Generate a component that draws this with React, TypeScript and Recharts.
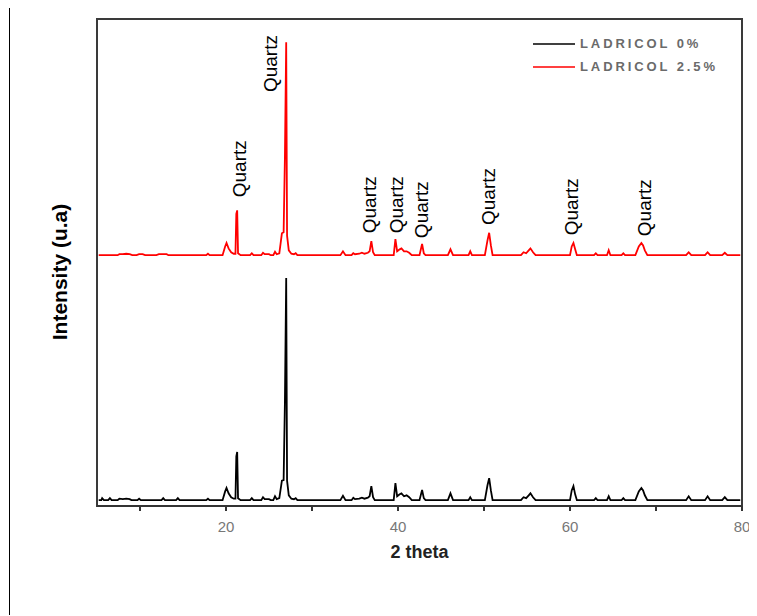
import React from 'react';
import { LineChart, Line, XAxis, YAxis, ReferenceArea, ReferenceDot, Label } from 'recharts';

// 2θ / intensity pairs (counts above each trace's own baseline)
const blackPattern: [number, number][] = [
  [5.2, 0], [5.5, 0], [5.6, 4], [5.8, 0], [6.3, 0], [6.5, 4], [6.7, 0],
  [7.4, 0], [7.6, 3], [8.0, 2], [8.4, 3], [8.8, 2], [9.0, 0], [9.7, 0], [9.9, 3], [10.1, 0],
  [12.5, 0], [12.7, 4], [12.9, 0], [14.2, 0], [14.4, 4], [14.6, 0], [17.7, 0], [17.9, 3], [18.1, 0],
  [19.6, 0], [19.9, 18], [20.06, 25], [20.3, 14], [20.6, 6], [20.9, 3], [21.1, 3], [21.2, 90], [21.3, 99], [21.4, 4], [21.7, 0],
  [22.8, 0], [23.0, 4], [23.2, 0], [24.1, 0], [24.3, 6], [24.5, 2], [25.0, 2], [25.2, 0],
  [25.5, 0], [25.7, 8], [25.9, 2], [26.2, 4], [26.5, 40], [26.7, 41], [26.85, 200], [27.0, 456], [27.1, 40], [27.3, 10], [27.6, 3], [27.9, 2], [28.1, 4], [28.3, 0],
  [33.3, 0], [33.6, 9], [33.9, 0], [34.6, 0], [34.8, 5], [35.0, 2], [35.5, 3], [35.8, 5], [36.1, 3], [36.5, 5], [36.7, 8], [36.9, 29], [37.1, 6], [37.3, 0],
  [39.5, 0], [39.7, 35], [39.9, 8], [40.2, 12], [40.4, 14], [40.7, 8], [41.0, 10], [41.3, 6], [41.6, 0],
  [42.5, 0], [42.8, 21], [43.0, 4], [43.2, 0], [45.8, 0], [46.1, 14], [46.4, 0], [48.2, 0], [48.4, 6], [48.6, 0],
  [50.1, 0], [50.4, 30], [50.6, 45], [50.8, 20], [51.0, 0],
  [54.3, 0], [54.6, 6], [54.9, 4], [55.2, 10], [55.4, 14], [55.7, 6], [56.0, 0],
  [60.0, 0], [60.2, 20], [60.4, 29], [60.6, 12], [60.8, 0],
  [62.8, 0], [63.0, 4], [63.2, 0], [64.3, 0], [64.5, 8], [64.7, 0], [66.0, 0], [66.2, 4], [66.4, 0],
  [67.6, 0], [68.0, 18], [68.3, 25], [68.5, 20], [68.7, 10], [69.0, 0],
  [73.5, 0], [73.8, 8], [74.1, 0], [75.7, 0], [76.0, 8], [76.3, 0], [77.7, 0], [78.0, 6], [78.3, 0], [79.8, 0],
];

const redPattern: [number, number][] = [
  [5.2, 0], [7.4, 0], [7.6, 2], [8.0, 2], [8.4, 3], [8.8, 2], [9.1, 0], [9.6, 0], [9.9, 2], [10.3, 2], [10.6, 0],
  [11.9, 0], [12.2, 2], [13.1, 2], [13.3, 0], [17.7, 0], [17.9, 3], [18.1, 0],
  [19.6, 0], [19.9, 18], [20.06, 25], [20.3, 14], [20.6, 6], [20.9, 3], [21.1, 3], [21.2, 85], [21.3, 92], [21.4, 4], [21.7, 0],
  [22.8, 0], [23.0, 4], [23.2, 0], [24.1, 0], [24.3, 5], [24.5, 2], [25.0, 2], [25.2, 0],
  [25.5, 0], [25.7, 7], [25.9, 2], [26.2, 4], [26.5, 45], [26.7, 47], [26.85, 200], [27.0, 437], [27.1, 40], [27.3, 10], [27.6, 3], [27.9, 2], [28.1, 4], [28.3, 0],
  [33.3, 0], [33.6, 8], [33.9, 0], [34.6, 0], [34.8, 4], [35.0, 2], [35.5, 3], [35.8, 5], [36.1, 3], [36.5, 5], [36.7, 8], [36.9, 29], [37.1, 6], [37.3, 0],
  [39.5, 0], [39.7, 33], [39.9, 8], [40.2, 12], [40.4, 14], [40.7, 8], [41.0, 8], [41.3, 5], [41.6, 0],
  [42.5, 0], [42.8, 23], [43.0, 4], [43.2, 0], [45.8, 0], [46.1, 12], [46.4, 0], [48.2, 0], [48.4, 8], [48.6, 0],
  [50.1, 0], [50.4, 30], [50.6, 46], [50.8, 20], [51.0, 0],
  [54.3, 0], [54.6, 6], [54.9, 4], [55.2, 10], [55.4, 14], [55.7, 6], [56.0, 0],
  [60.0, 0], [60.2, 18], [60.4, 25], [60.6, 12], [60.8, 0],
  [62.8, 0], [63.0, 4], [63.2, 0], [64.3, 0], [64.5, 10], [64.7, 0], [66.0, 0], [66.2, 4], [66.4, 0],
  [67.6, 0], [68.0, 18], [68.3, 25], [68.5, 20], [68.7, 10], [69.0, 0],
  [73.5, 0], [73.8, 6], [74.1, 0], [75.7, 0], [76.0, 6], [76.3, 0], [77.7, 0], [78.0, 5], [78.3, 0], [79.8, 0],
];

// vertical stacking offsets of the two traces
const BLACK_BASE = 12;
const RED_BASE = 515;

// "Quartz" annotations: 2θ of label centre, intensity where the text starts
const quartzTheta = [21.57, 25.23, 36.69, 39.78, 42.72, 50.48, 60.2, 68.7];
const quartzLabelY = [634, 850, 560, 560, 550, 577, 556, 554];

const xTicks = [10, 20, 30, 40, 50, 60, 70, 80];
const xLabels = [20, 40, 60, 80];

const seriesNames = ['LADRICOL 0%', 'LADRICOL 2.5%'];
const seriesColors = ['#000000', '#ff0000'];

const blackData = blackPattern.map(([t, c]) => ({ t, v: BLACK_BASE + c }));
const redData = redPattern.map(([t, c]) => ({ t, v: RED_BASE + c }));

const font = "'Liberation Sans', Arial, sans-serif";

const QuartzText = (props: any) => (
  <text
    x={props.cx}
    y={props.cy}
    transform={`rotate(-90 ${props.cx} ${props.cy})`}
    dominantBaseline="central"
    textAnchor="start"
    fontFamily={font}
    fontSize={19}
    fill="#000"
  >
    Quartz
  </text>
);

const LegendBox = () => (
  <div style={{ position: 'absolute', left: 525, top: 24, fontFamily: font }}>
    {seriesNames.map((name, i) => (
      <div key={name} style={{ display: 'flex', alignItems: 'center', height: 23 }}>
        <div style={{ width: 42, height: 2, background: seriesColors[i], opacity: 0.75, marginRight: 5 }} />
        <span style={{ fontSize: 13, fontWeight: 700, letterSpacing: 2.9, color: '#6a6a6a' }}>{name}</span>
      </div>
    ))}
  </div>
);

const App: React.FC = () => {
  return (
    <div style={{ position: 'relative', width: 749, height: 608 }}>
      <div
        style={{
          position: 'absolute',
          left: 1,
          top: -1,
          width: 747,
          height: 608,
          borderLeft: '1px solid #000',
          borderTop: '1px solid #000',
          boxSizing: 'border-box',
        }}
      />
      <div
        style={{
          position: 'absolute',
          left: 52 - 110,
          top: 264 - 13,
          width: 220,
          lineHeight: '26px',
          textAlign: 'center',
          transform: 'rotate(-90deg)',
          fontFamily: font,
          fontWeight: 700,
          fontSize: 21,
          color: '#000',
        }}
      >
        Intensity (u.a)
      </div>
      <LineChart width={749} height={608} margin={{ top: 11, right: 15, bottom: 50, left: 89 }}>
        <XAxis
          dataKey="t"
          type="number"
          domain={[5, 80]}
          allowDataOverflow
          ticks={xTicks}
          tickFormatter={(v: number) => (xLabels.includes(v) ? String(v) : '')}
          height={60}
          axisLine={{ stroke: '#333', strokeWidth: 2 }}
          tickLine={{ stroke: '#333', strokeWidth: 2 }}
          tickSize={5}
          tickMargin={10}
          tick={{ fill: '#777', fontSize: 15, fontFamily: font }}
        >
          <Label
            value="2 theta"
            position="insideBottom"
            offset={8}
            style={{ fontFamily: font, fontWeight: 700, fontSize: 18, fill: '#222' }}
          />
        </XAxis>
        <YAxis hide width={0} type="number" domain={[0, 1000]} allowDataOverflow />
        <ReferenceArea x1={5} x2={80} y1={0} y2={1000} fill="none" stroke="#3a3a3a" strokeWidth={2} ifOverflow="visible" />
        <Line
          data={blackData}
          dataKey="v"
          type="linear"
          stroke={seriesColors[0]}
          strokeWidth={1.8}
          dot={false}
          isAnimationActive={false}
          name={seriesNames[0]}
        />
        <Line
          data={redData}
          dataKey="v"
          type="linear"
          stroke={seriesColors[1]}
          strokeWidth={1.8}
          dot={false}
          isAnimationActive={false}
          name={seriesNames[1]}
        />
        {quartzTheta.map((t, i) => (
          <ReferenceDot key={t} x={t} y={quartzLabelY[i]} r={0} ifOverflow="visible" shape={QuartzText} />
        ))}
      </LineChart>
      <LegendBox />
    </div>
  );
};

export default App;
